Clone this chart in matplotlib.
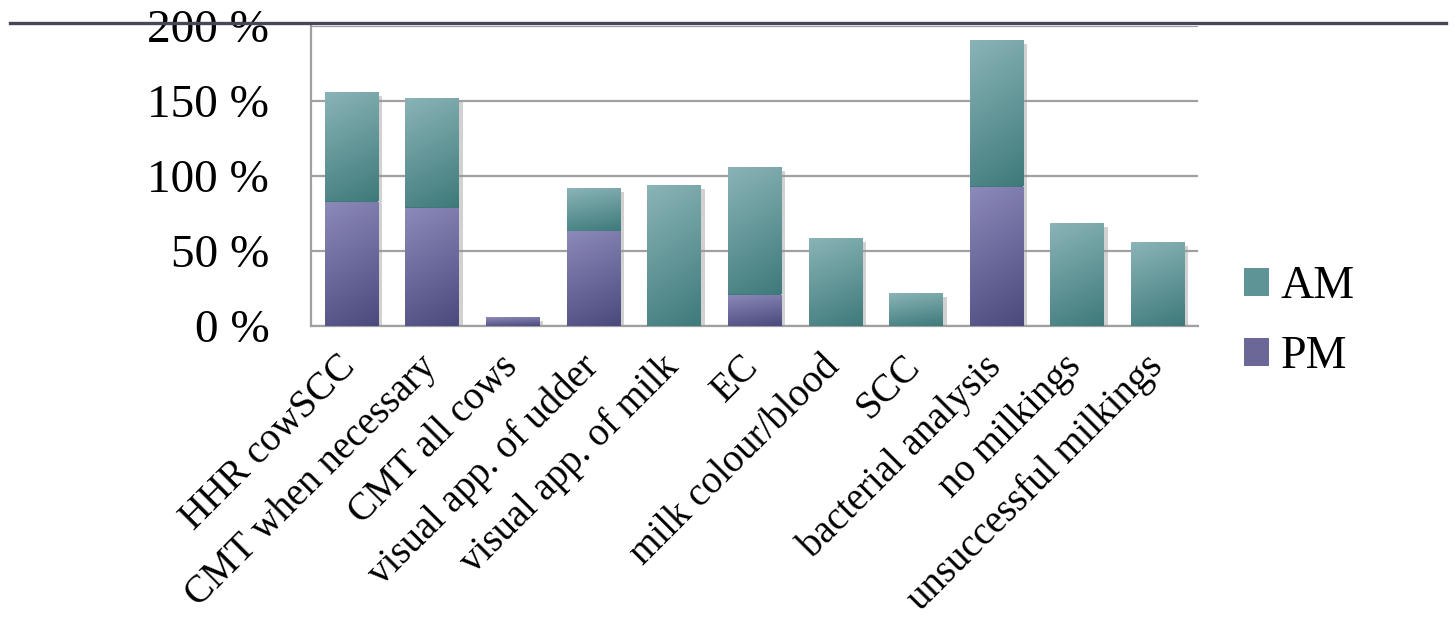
import numpy as np
import matplotlib
matplotlib.use('Agg')
import matplotlib.pyplot as plt
from matplotlib import colors
from matplotlib.patches import Patch
from matplotlib.lines import Line2D
from matplotlib.transforms import ScaledTranslation
import matplotlib.patheffects as pe

# data (percent)
categories = ['HHR cowSCC', 'CMT when necessary', 'CMT all cows', 'visual app. of udder',
              'visual app. of milk', 'EC', 'milk colour/blood', 'SCC', 'bacterial analysis',
              'no milkings', 'unsuccessful milkings']
pm = [83, 79, 6, 63.5, 0, 21, 0, 0, 93, 0, 0]
am = [73, 73, 0, 28.5, 94, 85, 59, 22, 98, 69, 56]
yticks = [0, 50, 100, 150, 200]
ytick_labels = ['0 %', '50 %', '100 %', '150 %', '200 %']

pm_light, pm_dark = '#8c8aba', '#4c497d'
am_light, am_dark = '#8ab4b7', '#3f7a7b'

plt.rcParams['font.family'] = ['Liberation Serif', 'DejaVu Serif']

fig = plt.figure(figsize = (14.55, 6.28), dpi = 100)
ax = fig.add_axes([311/1455, 1 - 326/628, (1198 - 311)/1455, 300/628])

x = np.arange(len(categories))
w = 0.66

def gradient_fill(bars, light, dark):
	"""paint a top-left light to bottom-right dark gradient inside each bar"""
	c1 = np.array(colors.to_rgb(light))
	c2 = np.array(colors.to_rgb(dark))
	yy, xx = np.mgrid[0:1:60j, 0:1:20j]
	t = np.clip(0.8 * yy + 0.2 * xx, 0, 1)[..., None]
	img = c1 * (1 - t) + c2 * t
	for b in bars:
		h = b.get_height()
		if h <= 0:
			continue
		x0, y0 = b.get_x(), b.get_y()
		im = ax.imshow(img, extent = (x0, x0 + b.get_width(), y0, y0 + h), origin = 'upper',
			aspect = 'auto', zorder = 3, interpolation = 'bilinear')
		im.set_clip_path(b)

shadow = [pe.SimplePatchShadow(offset = (3, -3), shadow_rgbFace = '#999999', alpha = 0.45), pe.Normal()]
bars_pm = ax.bar(x, pm, w, color = pm_dark, zorder = 2, path_effects = shadow)
bars_am = ax.bar(x, am, w, bottom = pm, color = am_dark, zorder = 2, path_effects = shadow)
gradient_fill(bars_pm, pm_light, pm_dark)
gradient_fill(bars_am, am_light, am_dark)

ax.set_xlim(-0.5, len(categories) - 0.5)
ax.set_ylim(0, 200)
ax.set_yticks(yticks)
ax.set_yticklabels(ytick_labels, fontsize = 34)
ax.set_xticks(x)
ax.set_xticklabels(categories, rotation = 45, ha = 'right', rotation_mode = 'anchor', fontsize = 28)
ax.tick_params(axis = 'y', length = 0, pad = 30)
ax.tick_params(axis = 'x', length = 0, pad = 16)

# nudge the rotated labels so their ends sit just right of the bar centre
for lbl in ax.get_xticklabels():
	lbl.set_transform(lbl.get_transform() + ScaledTranslation(-14/100, 0, fig.dpi_scale_trans))

ax.yaxis.grid(True, color = '#a0a0a0', linewidth = 1.6, zorder = 0)
ax.set_axisbelow(True)
for s in ['top', 'right']:
	ax.spines[s].set_visible(False)
for s in ['left', 'bottom']:
	ax.spines[s].set_color('#a0a0a0')
	ax.spines[s].set_linewidth(1.6)

# title rule across the slide
fig.add_artist(Line2D([10/1455, 1446/1455], [1 - 23/628, 1 - 23/628], color = '#46465a',
	linewidth = 2.4, zorder = 10))

handles = [Patch(facecolor = '#5e9496', edgecolor = 'none', label = 'AM'),
	Patch(facecolor = '#6b6898', edgecolor = 'none', label = 'PM')]
fig.legend(handles = handles, loc = 'center left', bbox_to_anchor = (1244/1455, 1 - 322/628),
	frameon = False, fontsize = 33, handlelength = 0.55, handleheight = 0.55,
	handletextpad = 0.25, labelspacing = 0.6, borderpad = 0, borderaxespad = 0)

fig.savefig('out.png', dpi = 100)
